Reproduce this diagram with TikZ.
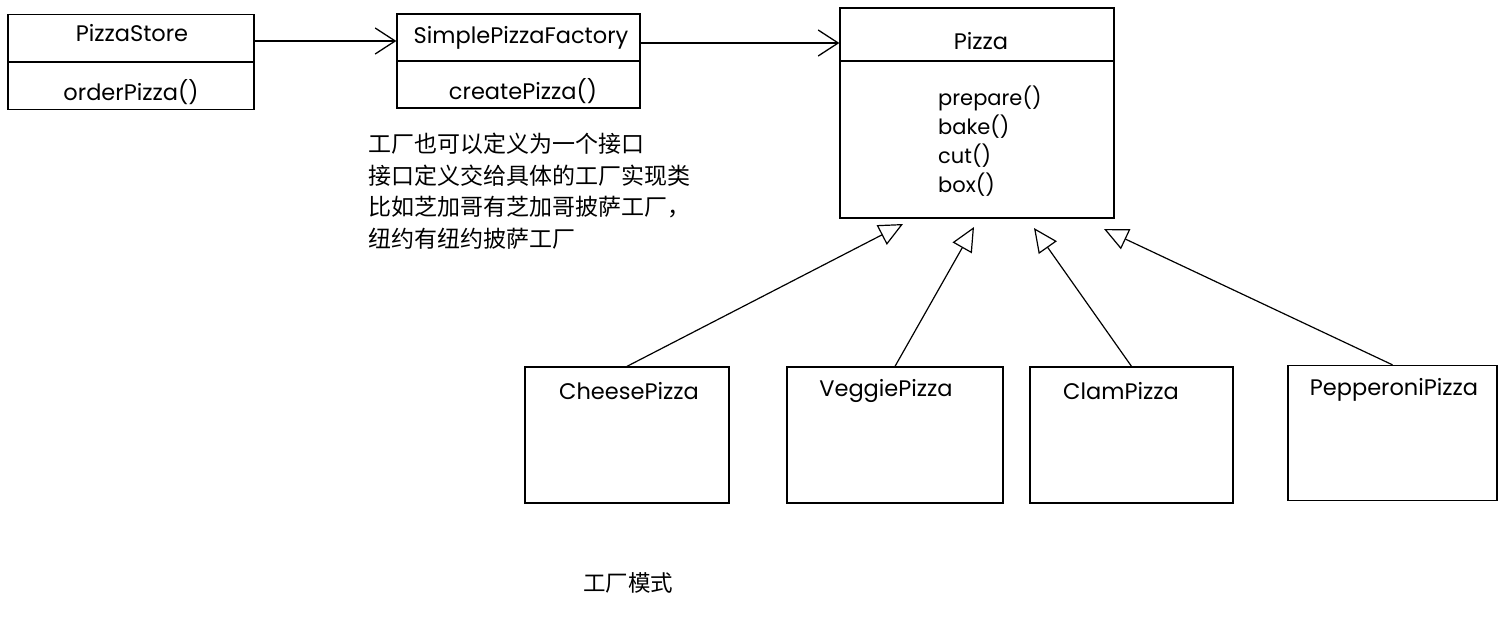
\documentclass[tikz,border=0pt]{standalone}
\usepackage{fontspec}
\setmainfont{Poppins}
\newfontfamily\cjk{Noto Sans CJK SC}
\usetikzlibrary{arrows, arrows.meta}
\usetikzlibrary{calc}

\tikzset{
  classbox/.style = {draw, line width=1.3pt, inner sep=0pt},
  lbl/.style = {font=\fontsize{22.5}{26}\selectfont, inner sep=0pt},
  assoc/.style = {line width=1.3pt, -{Straight Barb[length=20pt, width=26pt]}},
  inherit/.style = {line width=1.2pt, -{Triangle[open, length=24pt, width=22pt]}},
}

\begin{document}
\begin{tikzpicture}[x=1pt, y=-1pt]
      \useasboundingbox (0,0) rectangle (1502,616);

      % store and factory
      \node[classbox, minimum width=246pt, minimum height=95pt] (store) at (131,62) {};
      \node[lbl] (storename) at (132,33) {PizzaStore};
      \node[lbl] (storeop) at (131,92) {orderPizza()};
      \draw[line width=1.3pt] (store.west) -- (store.east);

      \node[classbox, minimum width=243pt, minimum height=94pt] (factory) at (518.5,61) {};
      \node[lbl] (factoryname) at (521,38) {SimplePizzaFactory};
      \node[lbl] (factoryop) at (523,91) {createPizza()};
      \draw[line width=1.3pt] (factory.west) -- (factory.east);

      % product
      \node[classbox, minimum width=274pt, minimum height=210pt] (pizza) at (977,113) {};
      \node[lbl] (pizzaname) at (981,41) {Pizza};
      \node[lbl, align=left, anchor=north west, font=\fontsize{21}{29}\selectfont] (pizzaops) at (938,86) {prepare()\\bake()\\cut()\\box()};
      \draw[line width=1.3pt] ([yshift=52pt]pizza.west) -- ([yshift=52pt]pizza.east);

      \draw[assoc] ([yshift=21pt]store.east) -- ([yshift=21pt]store.east -| factory.west);
      \draw[assoc] ([yshift=18pt]factory.east) -- ([yshift=18pt]factory.east -| pizza.west);

      % concrete pizzas
      \node[classbox, minimum width=204pt, minimum height=136pt] (cheese) at (627,435) {};
      \node[lbl] (cheesename) at (629,391) {CheesePizza};
      \node[classbox, minimum width=216pt, minimum height=136pt] (veggie) at (895,435) {};
      \node[lbl] (veggiename) at (886,391) {VeggiePizza};
      \node[classbox, minimum width=203pt, minimum height=136pt] (clam) at (1131.5,435) {};
      \node[lbl] (clamname) at (1121,391) {ClamPizza};
      \node[classbox, minimum width=209pt, minimum height=135pt] (pepperoni) at (1392.5,433) {};
      \node[lbl] (pepperoniname) at (1394,390) {PepperoniPizza};

      \coordinate (tip1) at (903,224);
      \coordinate (tip2) at (974,227);
      \coordinate (tip3) at (1034,228);
      \coordinate (tip4) at (1104,229);

      \draw[inherit] (cheese.north) -- (tip1);
      \draw[inherit] (veggie.north) -- (tip2);
      \draw[inherit] (clam.north) -- (tip3);
      \draw[inherit] (pepperoni.north) -- (tip4);

      % notes
      \node[anchor=north west, align=left, inner sep=0pt, font=\cjk\fontsize{23}{31.5}\selectfont] (note) at (368,133) {工厂也可以定义为一个接口\\接口定义交给具体的工厂实现类\\比如芝加哥有芝加哥披萨工厂，\\纽约有纽约披萨工厂};
      \node[inner sep=0pt, font=\cjk\fontsize{22.5}{27}\selectfont] (title) at (628,583) {工厂模式};
    \end{tikzpicture}
\end{document}
